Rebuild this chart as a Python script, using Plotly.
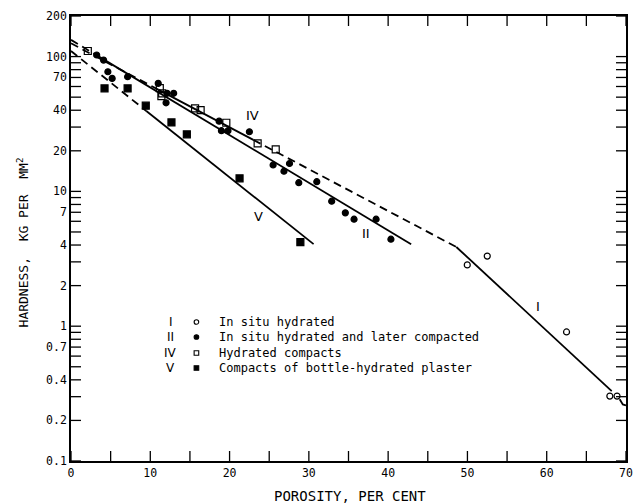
import numpy as np
import plotly.graph_objects as go

# ---------------- data ----------------
# I : in situ hydrated (open circles)
I_x = [49.98, 52.5, 62.5, 67.96, 68.87]
I_y = [2.85, 3.31, 0.906, 0.303, 0.303]

# II : in situ hydrated and later compacted (solid circles)
II_x = [3.24, 4.11, 4.65, 5.19, 7.14, 11.0, 12.12, 12.95, 11.99, 18.68, 18.97, 19.8,
        22.5, 25.49, 27.56, 26.86, 28.73, 31.0, 32.88, 34.6, 35.7, 38.48, 40.35]
II_y = [102.7, 94.2, 77.2, 68.9, 70.9, 63.3, 53.4, 53.4, 45.4, 33.2, 28.2, 28.2,
        27.7, 15.7, 16.1, 14.1, 11.6, 11.8, 8.46, 6.93, 6.22, 6.22, 4.42]

# IV : hydrated compacts (open squares)
IV_x = [2.12, 11.2, 11.5, 11.4, 15.65, 16.35, 19.59, 23.54, 25.82]
IV_y = [110, 58.4, 53.4, 50.9, 41.3, 40.1, 32.3, 22.7, 20.5]

# V : compacts of bottle-hydrated plaster (solid squares)
V_x = [4.23, 7.14, 9.43, 12.67, 14.61, 21.26, 28.93]
V_y = [58.1, 58.1, 43.2, 32.5, 26.5, 12.5, 4.2]

# fitted lines (vertices)
lineII_dash_x, lineII_dash_y = [0, 3], [133, 104.3]
lineII_x, lineII_y = [3, 42.9], [104.3, 4.06]
lineIV_dash_x, lineIV_dash_y = [0, 11], [125.4, 56.9]
lineIV_x, lineIV_y = [11, 23], [56.9, 24.1]
lineI_dash_x, lineI_dash_y = [23, 48.6], [24.1, 3.87]
lineI_x, lineI_y = [48.6, 68.2], [3.87, 0.33]
lineI_tail_x, lineI_tail_y = [69.2, 69.6, 70.0], [0.287, 0.263, 0.258]
lineV_dash_x, lineV_dash_y = [0, 9.5], [110, 39.5]
lineV_x, lineV_y = [9.5, 30.6], [39.5, 4.06]

# curve labels: (text, x, y)
curve_labels = [("IV", 22.9, 36.8), ("V", 23.6, 6.5), ("II", 37.2, 4.9), ("I", 58.9, 1.39)]

# legend entries
legend_numerals = ["I", "II", "IV", "V"]
legend_texts = ["In situ hydrated", "In situ hydrated and later compacted",
                "Hydrated compacts", "Compacts of bottle-hydrated plaster"]

x_ticks = [0, 10, 20, 30, 40, 50, 60, 70]
x_minor = [5, 15, 25, 35, 45, 55, 65]
y_ticks = [0.1, 0.2, 0.4, 0.7, 1, 2, 4, 7, 10, 20, 40, 70, 100, 200]
y_ticktext = ["0.1", "0.2", "0.4", "0.7", "1", "2", "4", "7", "10", "20", "40", "70", "100", "200"]
y_minor = [0.3, 0.5, 0.6, 0.8, 0.9, 3, 5, 6, 8, 9, 30, 50, 60, 80, 90]

MONO = "DejaVu Sans Mono"
SANS = "DejaVu Sans"
BLACK = "black"

fig = go.Figure()

def add_line(x, y, dash=None):
    fig.add_trace(go.Scatter(x=x, y=y, mode="lines",
                             line=dict(color=BLACK, width=1.8, dash=dash or "solid"),
                             hoverinfo="skip"))

DASH = "8px,5px"
add_line(lineII_dash_x, lineII_dash_y, DASH)
add_line(lineII_x, lineII_y)
add_line(lineIV_dash_x, lineIV_dash_y, DASH)
add_line(lineIV_x, lineIV_y)
add_line(lineI_dash_x, lineI_dash_y, DASH)
add_line(lineI_x, lineI_y)
add_line(lineI_tail_x, lineI_tail_y)
add_line(lineV_dash_x, lineV_dash_y, DASH)
add_line(lineV_x, lineV_y)

def add_pts(x, y, symbol, size):
    fig.add_trace(go.Scatter(x=x, y=y, mode="markers",
                             marker=dict(symbol=symbol, size=size, color=BLACK,
                                         line=dict(color=BLACK, width=1.2))))

add_pts(I_x, I_y, "circle-open", 6)
add_pts(II_x, II_y, "circle", 6)
add_pts(IV_x, IV_y, "square-open", 7)
add_pts(V_x, V_y, "square", 7)

annotations = []
for txt, lx, ly in curve_labels:
    annotations.append(dict(x=lx, y=np.log10(ly), xref="x", yref="y", text=txt,
                            showarrow=False, font=dict(family=SANS, size=13, color=BLACK)))

# legend (manual, to match the reference layout)
leg_rows = [0.3124, 0.2787, 0.2427, 0.209]
shapes = []
for i, (num, txt) in enumerate(zip(legend_numerals, legend_texts)):
    yy = leg_rows[i]
    annotations.append(dict(x=0.1797, y=yy, xref="paper", yref="paper", text=num,
                            showarrow=False, xanchor="center", yanchor="middle",
                            font=dict(family=SANS, size=12, color=BLACK)))
    annotations.append(dict(x=0.2633, y=yy, xref="paper", yref="paper", text=txt,
                            showarrow=False, xanchor="left", yanchor="middle",
                            font=dict(family=MONO, size=12, color=BLACK)))
    kind = "circle" if i < 2 else "rect"
    filled = i in (1, 3)
    r = 2.3
    shapes.append(dict(type=kind, xref="paper", yref="paper",
                       xsizemode="pixel", ysizemode="pixel",
                       xanchor=0.226, yanchor=yy, x0=-r, x1=r, y0=-r, y1=r,
                       line=dict(color=BLACK, width=1.1),
                       fillcolor=BLACK if filled else "white"))

# inside tick marks on all four sides, positioned through the axes' scales
TL = 10
for v in x_ticks + x_minor:
    for anchor, sgn in ((0, 1), (1, -1)):
        shapes.append(dict(type="line", xref="x", yref="paper", ysizemode="pixel",
                           yanchor=anchor, x0=v, x1=v, y0=0, y1=sgn * TL,
                           line=dict(color=BLACK, width=1.3), layer="above"))
for v in y_ticks + y_minor:
    for anchor, sgn in ((0, 1), (1, -1)):
        shapes.append(dict(type="line", xref="paper", yref="y", xsizemode="pixel",
                           xanchor=anchor, y0=v, y1=v, x0=0, x1=sgn * TL,
                           line=dict(color=BLACK, width=1.3), layer="above"))

# axis titles
annotations.append(dict(x=0, y=0.49, xref="paper", yref="paper", xshift=-48.5,
                        text="HARDNESS,\u00a0\u00a0KG PER\u00a0\u00a0MM<sup>2</sup>",
                        textangle=-90, showarrow=False, xanchor="center", yanchor="middle",
                        font=dict(family=MONO, size=13, color=BLACK)))
annotations.append(dict(x=0.5036, y=0, xref="paper", yref="paper", yshift=-35,
                        text="POROSITY, PER CENT", showarrow=False,
                        xanchor="center", yanchor="middle",
                        font=dict(family=MONO, size=14, color=BLACK)))

fig.update_layout(
    width=641, height=504,
    margin=dict(l=71, r=8, t=16, b=43),
    plot_bgcolor="white", paper_bgcolor="white",
    showlegend=False,
    font=dict(family=MONO, size=11.5, color=BLACK),
    annotations=annotations, shapes=shapes,
)

fig.update_xaxes(range=[0, 70], tickmode="array", tickvals=x_ticks,
                 ticktext=[str(v) for v in x_ticks], ticks="",
                 showline=True, linecolor=BLACK, linewidth=1.6, mirror=True,
                 showgrid=False, zeroline=False)
fig.update_yaxes(type="log", range=[-1, np.log10(200)], tickmode="array",
                 tickvals=y_ticks, ticktext=y_ticktext, ticks="",
                 showline=True, linecolor=BLACK, linewidth=1.6, mirror=True,
                 showgrid=False, zeroline=False)

fig.write_html("out.html")
